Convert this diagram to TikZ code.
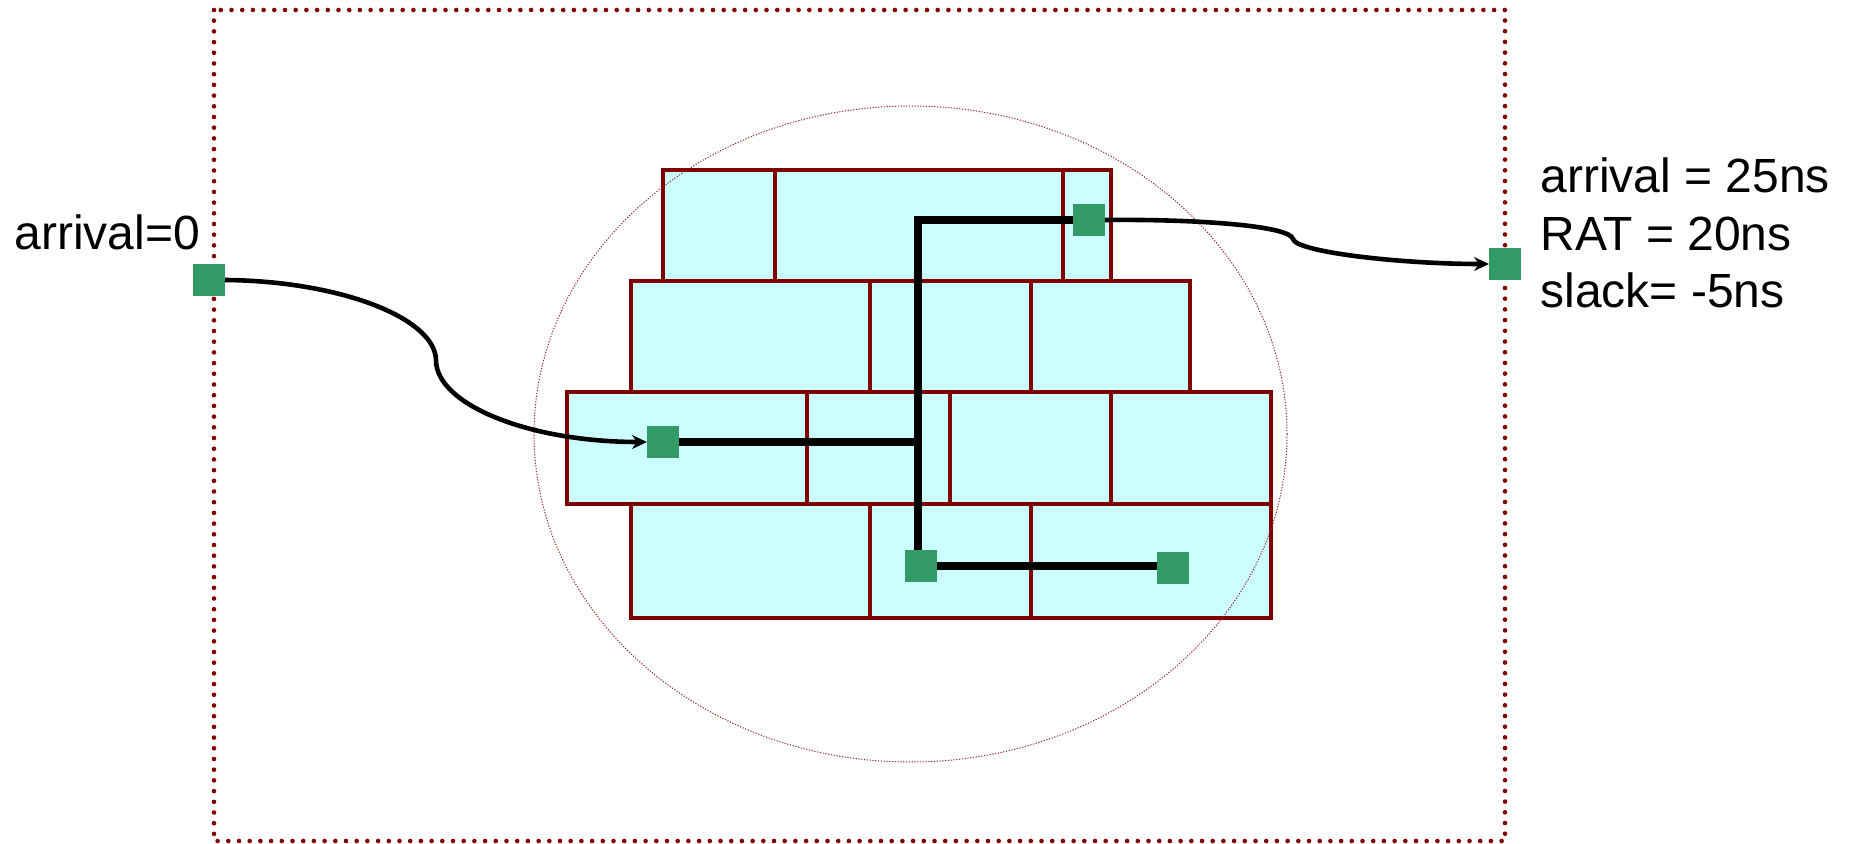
\documentclass[tikz,border=0pt]{standalone}
\usepackage{fontspec}
\setmainfont{Liberation Sans}
\usetikzlibrary{arrows.meta}
\definecolor{maroon}{HTML}{800000}
\definecolor{cellfill}{HTML}{CCFFFF}
\definecolor{pingreen}{HTML}{339966}
\begin{document}
\begin{tikzpicture}[x=0.5pt,y=-0.5pt,
  cell/.style={draw=maroon,fill=cellfill,line width=2.4pt},
  pinbox/.style={fill=pingreen,minimum width=16pt,minimum height=16pt,inner sep=0pt,outer sep=0pt,draw=none},
  wire/.style={line width=4pt},
  net/.style={line width=2.3pt,-{Stealth[length=7.5pt,width=7pt,inset=2.5pt]}},
  lbl/.style={font=\fontsize{24}{28}\selectfont, anchor=base west, inner sep=0pt},
  frame/.style={draw=maroon,line width=2.3pt,line cap=round,dash pattern=on 0pt off 5.35pt},
  region/.style={draw=maroon!85,line width=0.5pt,dash pattern=on 0.6pt off 0.8pt},
  ]
\useasboundingbox (0,0) rectangle (1852,844);
% outer dotted boundary
\draw[frame] (214,10) rectangle (1505,841);
% row 1
\draw[cell] (663,170) rectangle (775,281);
\draw[cell] (775,170) rectangle (1063,281);
\draw[cell] (1063,170) rectangle (1111,281);
% row 2
\draw[cell] (631,281) rectangle (870,392);
\draw[cell] (870,281) rectangle (1031,392);
\draw[cell] (1031,281) rectangle (1190,392);
% row 3
\draw[cell] (567,392) rectangle (807,504);
\draw[cell] (807,392) rectangle (950,504);
\draw[cell] (950,392) rectangle (1111,504);
\draw[cell] (1111,392) rectangle (1271,504);
% row 4
\draw[cell] (631,504) rectangle (870,618);
\draw[cell] (870,504) rectangle (1031,618);
\draw[cell] (1031,504) rectangle (1271,618);
% region ellipse
\draw[region] (910.5,434) ellipse [x radius=188.25pt, y radius=164pt];
% pins
\node[pinbox] (s0) at (209,280) {};
\node[pinbox] (A) at (663,442) {};
\node[pinbox] (B) at (1089,220) {};
\node[pinbox] (C) at (921,566) {};
\node[pinbox] (D) at (1173,568) {};
\node[pinbox] (s1) at (1505,264) {};
% wires
\coordinate (j) at (918,220);
\draw[wire] (B.west) -- (j) -- (j |- C.north);
\draw[wire] (A.east) -- (A.east -| j);
\draw[wire] (C.east) -- (C.east -| D.west);
% nets
\coordinate (m1) at (436,360);
\draw[net] (s0.east) .. controls (340,281) and (435,318) .. (m1) .. controls (436,405) and (530,442) .. (A.west);
\coordinate (m2) at (1293,239);
\draw[net] (B.east) .. controls (1200,219) and (1290,226) .. (m2) .. controls (1296,252) and (1400,264) .. (s1.west);
% labels
\node[lbl] (t0) at (14,250) {arrival=0};
\node[lbl] (r1) at (1540,193) {arrival = 25ns};
\node[lbl] (r2) at (1540,251) {RAT = 20ns};
\node[lbl] (r3) at (1540,308) {slack= -5ns};
\end{tikzpicture}
\end{document}
